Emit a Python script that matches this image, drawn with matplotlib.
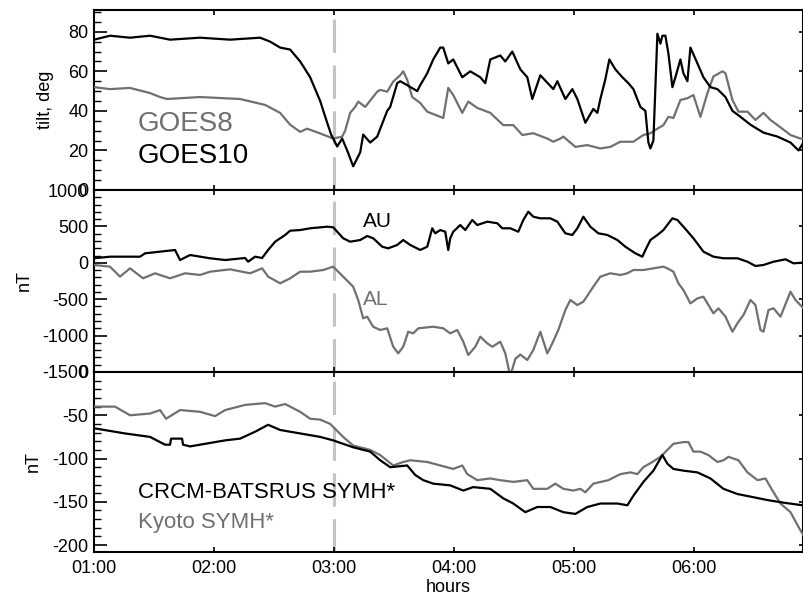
import numpy as np
import matplotlib
matplotlib.use('Agg')
import matplotlib.pyplot as plt
from matplotlib.ticker import MultipleLocator

plt.rcParams['font.family'] = ['Liberation Sans', 'DejaVu Sans']
plt.rcParams['lines.scale_dashes'] = False
plt.rcParams['axes.unicode_minus'] = False

# time in minutes after 01:00
hour_ticks = [0, 60, 120, 180, 240, 300]
hour_labels = ['01:00', '02:00', '03:00', '04:00', '05:00', '06:00']
onset = 120  # 03:00 dashed marker

# --- top panel: tilt angle, deg
goes10_t = [0, 8, 18, 28, 38, 53, 68, 83, 88, 93,
            98, 103, 108, 113, 116.5, 118.5, 121.5, 124, 126.5, 129.5,
            133, 134.5, 138, 141.5, 146.5, 148, 151.5, 153, 156.5, 161.5,
            163, 166.5, 169.5, 173, 174.5, 177, 179.5, 184, 188, 193,
            195.5, 198, 203, 205.5, 209, 213, 216.5, 219, 223, 229.5,
            231.5, 235.5, 239, 241.5, 245.5, 249.5, 251.5, 253, 255.5, 257.5,
            260.5, 264, 267, 269.5, 273, 275.5, 277, 278, 279.5, 281.5,
            283, 284, 285.5, 287, 289, 290.5, 293, 294.5, 296.5, 298,
            301.5, 304.5, 308, 311.5, 315.5, 319, 323, 328, 334.5, 341.5,
            348, 352, 354.5]
goes10_v = [76, 78, 77, 78, 76, 77, 76, 77, 75, 72,
            71, 65, 57, 45, 34, 28, 22, 26, 20, 12,
            19, 28, 24, 27, 40, 42, 54, 55, 53, 50,
            53, 59, 66, 72, 72, 64, 66, 57, 60, 57,
            54, 66, 68, 65, 70, 61, 57, 46, 58, 51,
            55, 46, 51, 46, 34, 41, 39, 46, 56, 66,
            61, 57, 54, 51, 42, 40, 24, 21, 25, 79,
            74, 78, 78, 69, 52, 57, 66, 59, 55, 72,
            64, 57, 52, 51, 47, 40, 37, 33, 29, 27,
            24, 20, 24]

goes8_t = [0, 8, 18, 28, 33, 36.5, 53, 73, 85.5, 93,
           98, 103, 106.5, 113, 119.5, 124, 125.5, 128, 130.5, 132,
           135.5, 141.5, 143, 146.5, 149.5, 153, 154.5, 156.5, 159, 163,
           166.5, 173, 174.5, 177, 179.5, 184, 187, 191.5, 198, 204.5,
           209.5, 214, 219.5, 226.5, 229.5, 233, 234.5, 240.5, 246.5, 253,
           258, 263, 269.5, 274.5, 278, 281.5, 284.5, 287, 289.5, 293,
           296.5, 299.5, 303, 306.5, 309.5, 314, 315.5, 319, 322, 326.5,
           330.5, 334.5, 338, 341.5, 348, 353, 354.5]
goes8_v = [52, 51, 51.6, 49, 47, 46, 47, 46, 43, 39,
           33, 29.4, 31, 28.6, 26, 27, 30, 39, 42, 44.7,
           42, 49.7, 50.6, 49.7, 54.8, 58, 60, 55.7, 47, 44,
           39.6, 37, 36.4, 51.6, 48, 39, 44.7, 41.5, 39, 32.8,
           32.8, 27.8, 28.7, 26, 24.4, 26, 27, 21.8, 22.7, 21,
           21.8, 24.4, 24.4, 27.8, 28.7, 31, 32.8, 37, 36.4, 45.5,
           46.4, 48, 37, 49, 57.4, 60, 59, 45.5, 39.6, 39.6,
           35.4, 39, 35.4, 32.8, 27.8, 26, 26]

# --- middle panel: AU / AL, nT
au_t = [0, 8, 23, 25.5, 40.5, 43, 48, 58, 65.5, 75.5,
        77, 80.5, 84, 87, 90.5, 95.5, 98, 103, 108, 116.5,
        119.5, 124.5, 128, 133, 136.5, 139.5, 144, 147, 151.5, 154.5,
        158, 163, 166.5, 169, 170.5, 173, 175.5, 177, 178, 179.5,
        183, 185.5, 189, 191.5, 196.5, 201.5, 204, 208, 212, 214.5,
        217, 219.5, 223, 228, 231.5, 235.5, 239, 241.5, 244.5, 248,
        252, 256.5, 261.5, 265.5, 270.5, 274, 275.5, 278, 281.5, 284.5,
        289, 291.5, 294.5, 299.5, 304.5, 309.5, 314.5, 321.5, 326.5, 330.5,
        334.5, 339.5, 345.5, 349.5, 354]
au_v = [62, 84, 84, 130, 176, 38, 107, 62, 38, 66,
        15, 84, 66, 176, 290, 382, 441, 450, 474, 496,
        488, 337, 290, 313, 368, 337, 221, 199, 245, 313,
        245, 176, 221, 474, 405, 450, 427, 176, 337, 427,
        519, 450, 588, 519, 565, 543, 474, 474, 427, 588,
        702, 633, 611, 611, 565, 405, 382, 474, 633, 496,
        405, 382, 313, 221, 130, 84, 176, 313, 382, 450,
        611, 588, 496, 337, 153, 84, 62, 62, 15, -44,
        -30, 15, 48, -7, 2]

al_t = [0, 8, 13, 18, 24.5, 30.5, 38, 45.5, 53, 58,
        68, 78, 84, 87, 93, 98, 103, 108, 114.5, 119.5,
        124.5, 129.5, 132, 134.5, 136.5, 139.5, 143, 146.5, 149.5, 152,
        154.5, 157, 159.5, 162, 169.5, 174.5, 178, 181.5, 184.5, 187,
        190.5, 193, 196.5, 199, 203, 205.5, 208, 210.5, 213, 216.5,
        219.5, 223, 226.5, 229, 232, 235.5, 238, 241.5, 244.5, 249.5,
        253, 258, 263, 266.5, 269.5, 274.5, 279.5, 284.5, 286.5, 289.5,
        292, 294.5, 298, 301.5, 304.5, 307, 309.5, 312, 315.5, 319,
        321.5, 324.5, 328, 330.5, 333, 334.5, 337, 339.5, 343, 348,
        350.5, 354.5]
al_v = [-30, -53, -190, -76, -213, -144, -213, -144, -167, -122,
        -90, -144, -76, -190, -282, -213, -122, -122, -99, -53,
        -190, -328, -511, -763, -740, -878, -923, -900, -1153, -1244,
        -1153, -947, -969, -900, -878, -900, -969, -923, -1084, -1267,
        -1153, -1015, -1106, -1153, -1084, -1244, -1560, -1320, -1260, -1335,
        -1198, -947, -1244, -1106, -923, -649, -511, -580, -534, -328,
        -190, -144, -167, -144, -99, -99, -76, -53, -76, -122,
        -282, -374, -557, -488, -466, -580, -694, -625, -740, -947,
        -831, -717, -511, -580, -923, -947, -649, -625, -740, -397,
        -511, -625]

# --- bottom panel: SYMH*, nT
crcm_t = [0, 15.5, 28, 35.5, 38, 38.5, 44, 44.5, 48, 58,
          65.5, 73, 80.5, 87, 93, 103, 113, 119.5, 129.5, 138,
          143, 148, 156.5, 160.5, 164.5, 169.5, 178, 184.5, 189.5, 198,
          204.5, 209.5, 215.5, 221.5, 228, 234.5, 240.5, 246.5, 253, 261.5,
          266.5, 269.5, 274.5, 279.5, 284, 286.5, 289.5, 294.5, 301.5, 308,
          314.5, 321.5, 328, 336.5, 344.5, 354]
crcm_v = [-65, -71, -75, -84, -84, -77, -77, -84, -86, -82,
          -79, -77, -69, -61, -67, -71, -75, -79, -87, -92,
          -102, -110, -108, -119, -125, -129, -131, -137, -133, -135,
          -146, -152, -162, -156, -156, -162, -164, -156, -152, -152,
          -154, -143, -127, -114, -96, -106, -112, -114, -116, -123,
          -135, -141, -144, -148, -151, -154]

kyoto_t = [0, 10.5, 18, 28, 33, 36, 43, 53, 60.5, 65.5,
           75.5, 85.5, 90.5, 95.5, 103, 108, 113, 118, 124.5, 129.5,
           138, 143, 149.5, 154.5, 158, 166.5, 173, 179.5, 184, 186.5,
           191.5, 198, 203, 209.5, 216.5, 219.5, 226.5, 230.5, 234.5, 239.5,
           243, 245.5, 249.5, 257, 263, 268, 271.5, 274.5, 279, 283,
           286.5, 289.5, 294.5, 297, 299.5, 303, 307, 311.5, 314.5, 317,
           322, 326.5, 331.5, 335.5, 339, 343, 348, 352, 354.5]
kyoto_v = [-40, -40, -50, -48, -44, -54, -44, -46, -51, -44,
           -38, -36, -40, -37, -46, -54, -55, -60, -75, -85,
           -90, -96, -108, -104, -102, -104, -108, -112, -108, -118,
           -125, -123, -125, -127, -125, -135, -135, -129, -135, -137,
           -135, -139, -129, -125, -118, -116, -118, -110, -104, -98,
           -90, -83, -81, -81, -92, -92, -96, -104, -102, -98,
           -102, -116, -125, -123, -137, -152, -162, -179, -189]

grey = '#707070'
dash_col = '#c4c4c4'

fig = plt.figure(figsize=(8.04, 5.99), dpi=100)
W, H = 804.0, 599.0
left = 94 / W
width = (803.5 - 94) / W
ax1 = fig.add_axes([left, (H - 190) / H, width, 180 / H])
ax2 = fig.add_axes([left, (H - 372) / H, width, 182 / H])
ax3 = fig.add_axes([left, (H - 552) / H, width, 180 / H])

ax1.plot(goes8_t, goes8_v, color=grey, lw=1.6, zorder=3)
ax1.plot(goes10_t, goes10_v, color='black', lw=1.6, zorder=4)
ax1.set_ylim(0, 91)
ax1.yaxis.set_major_locator(MultipleLocator(20))
ax1.yaxis.set_minor_locator(MultipleLocator(5))
ax1.set_ylabel('tilt, deg', fontsize=13)
ax1.yaxis.set_label_coords(-0.056, 0.5)
ax1.text(0.062, 0.328, 'GOES8', transform=ax1.transAxes, color=grey, fontsize=20)
ax1.text(0.062, 0.15, 'GOES10', transform=ax1.transAxes, color='black', fontsize=20)

ax2.plot(au_t, au_v, color='black', lw=1.6, zorder=4)
ax2.plot(al_t, al_v, color=grey, lw=1.6, zorder=3)
ax2.set_ylim(-1500, 1000)
ax2.yaxis.set_major_locator(MultipleLocator(500))
ax2.yaxis.set_minor_locator(MultipleLocator(100))
ax2.set_ylabel('nT', fontsize=13)
ax2.yaxis.set_label_coords(-0.086, 0.5)
ax2.text(0.379, 0.797, 'AU', transform=ax2.transAxes, color='black', fontsize=15)
ax2.text(0.379, 0.368, 'AL', transform=ax2.transAxes, color=grey, fontsize=15)

ax3.plot(kyoto_t, kyoto_v, color=grey, lw=1.6, zorder=3)
ax3.plot(crcm_t, crcm_v, color='black', lw=1.6, zorder=4)
ax3.set_ylim(-208, 0)
ax3.yaxis.set_major_locator(MultipleLocator(50))
ax3.yaxis.set_minor_locator(MultipleLocator(10))
ax3.set_ylabel('nT', fontsize=13)
ax3.yaxis.set_label_coords(-0.073, 0.5)
ax3.text(0.062, 0.30, 'CRCM-BATSRUS SYMH*', transform=ax3.transAxes, color='black', fontsize=16)
ax3.text(0.062, 0.133, 'Kyoto SYMH*', transform=ax3.transAxes, color=grey, fontsize=16)
ax3.set_xlabel('hours', fontsize=13, labelpad=1)

for ax in (ax1, ax2, ax3):
    ax.axvline(onset, color=dash_col, lw=2.2, dashes=(24, 9), zorder=1)
    ax.set_xlim(0, 354.5)
    ax.set_xticks(hour_ticks)
    ax.set_xticklabels(hour_labels)
    for s in ax.spines.values():
        s.set_linewidth(1.5)
    ax.tick_params(axis='x', which='major', direction='in', length=3.5, width=1.2,
                   top=True, bottom=True, labelsize=13, pad=6)
    ax.tick_params(axis='y', which='major', direction='in', length=9, width=1.2,
                   labelsize=13, pad=4, right=False)
    ax.tick_params(axis='y', which='minor', direction='in', length=5, width=1.0,
                   right=False)
    sec = ax.secondary_yaxis('right')
    sec.set_yticks(ax.get_yticks())
    sec.tick_params(direction='in', length=3.5, width=1.2, labelright=False)
    sec.spines['right'].set_linewidth(1.5)

ax1.tick_params(axis='x', labelbottom=False)
ax2.tick_params(axis='x', labelbottom=False)

fig.savefig('out.png', dpi=100)
